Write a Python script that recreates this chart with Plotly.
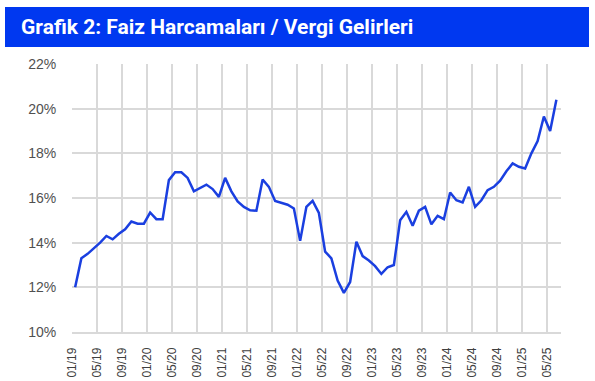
import plotly.graph_objects as go

# Data (monthly, 01/19 .. 06/25), % of tax revenue
values = [
    12.0, 13.3, 13.5, 13.75, 14.0, 14.3, 14.15, 14.4, 14.6, 14.95, 14.85, 14.85,
    15.35, 15.05, 15.05, 16.8, 17.15, 17.15, 16.9, 16.3, 16.45, 16.6, 16.4, 16.05,
    16.9, 16.3, 15.85, 15.6, 15.45, 15.43, 16.83, 16.5, 15.87, 15.8, 15.7, 15.53,
    14.08, 15.6, 15.87, 15.33, 13.6, 13.3, 12.3, 11.75, 12.24, 14.04, 13.4, 13.2,
    12.95, 12.6, 12.9, 13.0, 15.0, 15.38, 14.76, 15.43, 15.6, 14.82, 15.2, 15.05,
    16.25, 15.9, 15.8, 16.5, 15.6, 15.9, 16.35, 16.5, 16.78, 17.2, 17.55, 17.4,
    17.32, 18.0, 18.55, 19.65, 19.0, 20.4,
]
month_index = list(range(len(values)))
tick_labels = ["01/19", "05/19", "09/19", "01/20", "05/20", "09/20", "01/21", "05/21",
               "09/21", "01/22", "05/22", "09/22", "01/23", "05/23", "09/23", "01/24",
               "05/24", "09/24", "01/25", "05/25"]
tick_positions = [4 * i for i in range(len(tick_labels))]
title_text = "Grafik 2: Faiz Harcamaları / Vergi Gelirleri"

W, H = 595, 381
L, R, T, B = 72, 34, 64, 49
pw, ph = W - L - R, H - T - B

def px_x(p):
    return (p - L) / pw

def px_y(p):
    return (H - B - p) / ph

fig = go.Figure()
fig.add_trace(go.Scatter(
    x=[m + 0.5 for m in month_index], y=values, mode="lines",
    line=dict(color="#1a3fe0", width=2.5), hoverinfo="skip", showlegend=False,
))

grid = "#d9d9d9"
fig.update_layout(
    width=W, height=H,
    margin=dict(l=L, r=R, t=T, b=B, autoexpand=False),
    paper_bgcolor="white", plot_bgcolor="white",
    font=dict(family="Liberation Sans, Arial, sans-serif", color="#404040"),
    xaxis=dict(
        range=[0, 78.24], tickmode="array", tickvals=tick_positions, ticktext=tick_labels,
        tickangle=-90, showgrid=True, gridcolor=grid, gridwidth=1.5,
        showline=True, linecolor=grid, linewidth=1.5, zeroline=False,
        tickfont=dict(size=12, color="#404040"),
        ticks="outside", ticklen=9, tickcolor="rgba(0,0,0,0)", automargin=False,
    ),
    yaxis=dict(
        range=[10, 22], dtick=2, tick0=10, ticksuffix="%",
        showgrid=True, gridcolor=grid, gridwidth=1.5, zeroline=False,
        showline=False, tickfont=dict(size=14, color="#505050"),
        ticks="outside", ticklen=12, tickcolor="rgba(0,0,0,0)", automargin=False,
    ),
    shapes=[dict(
        type="rect", xref="paper", yref="paper",
        x0=px_x(5), x1=px_x(589), y0=px_y(47), y1=px_y(7),
        fillcolor="#0038f0", line=dict(width=0), layer="below",
    )],
    annotations=[dict(
        text=title_text, xref="paper", yref="paper",
        x=px_x(19), y=px_y(27), xanchor="left", yanchor="middle", showarrow=False,
        font=dict(family="Roboto, Liberation Sans, sans-serif", size=21, color="white", weight="bold"),
    )],
)

fig.write_html("out.html", config={"displayModeBar": False},
               post_script="document.body.style.margin='0';")
